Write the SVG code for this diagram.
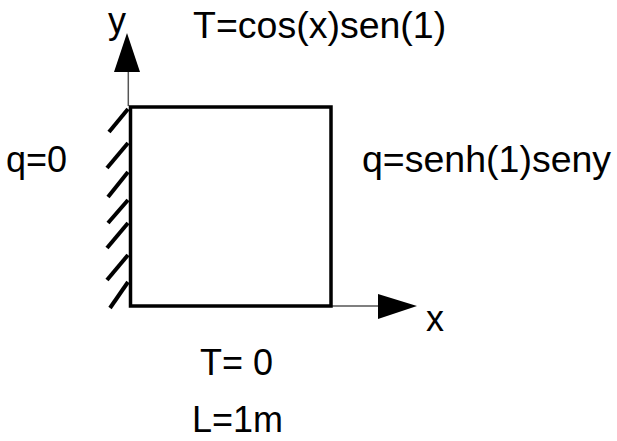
<svg xmlns="http://www.w3.org/2000/svg" width="617" height="441" viewBox="0 0 617 441">
<style>
  text { font-family: "Liberation Sans", Arial, sans-serif; font-size: 36px; fill: #000; }
  .big { font-size: 37.5px; }
  .hatch { stroke: #000; stroke-width: 4; stroke-linecap: butt; }
  .axis { stroke: #555; stroke-width: 1.5; fill: none; }
  .head { fill: #000; stroke: none; }
</style>
<rect width="617" height="441" fill="#fff"/>
<g id="connectors">
  <line class="axis" x1="128.3" y1="106" x2="128.3" y2="72"/>
  <polygon class="head" points="127,33 114,72 140,72"/>
  <line class="axis" x1="331" y1="306" x2="378" y2="306"/>
  <polygon class="head" points="417,306 378,294 378,319"/>
</g>
<g id="wall">
  <line class="hatch" x1="128" y1="109" x2="109" y2="132"/>
  <line class="hatch" x1="128" y1="143" x2="107" y2="168"/>
  <line class="hatch" x1="128" y1="172" x2="108" y2="197"/>
  <line class="hatch" x1="128" y1="200" x2="108" y2="223"/>
  <line class="hatch" x1="128" y1="223" x2="107" y2="248"/>
  <line class="hatch" x1="128" y1="255" x2="107" y2="280"/>
  <line class="hatch" x1="128" y1="282" x2="110" y2="308"/>
</g>
<g id="plate">
  <rect x="130.5" y="107" width="200.5" height="199" fill="none" stroke="#000" stroke-width="3.5"/>
</g>
<g id="labels">
  <text x="108" y="33">y</text>
  <text class="big" x="193" y="38">T=cos(x)sen(1)</text>
  <text x="6" y="172">q=0</text>
  <text class="big" x="362" y="172">q=senh(1)seny</text>
  <text x="426" y="331">x</text>
  <text x="200" y="375">T= 0</text>
  <text x="192" y="432">L=1m</text>
</g>
</svg>
